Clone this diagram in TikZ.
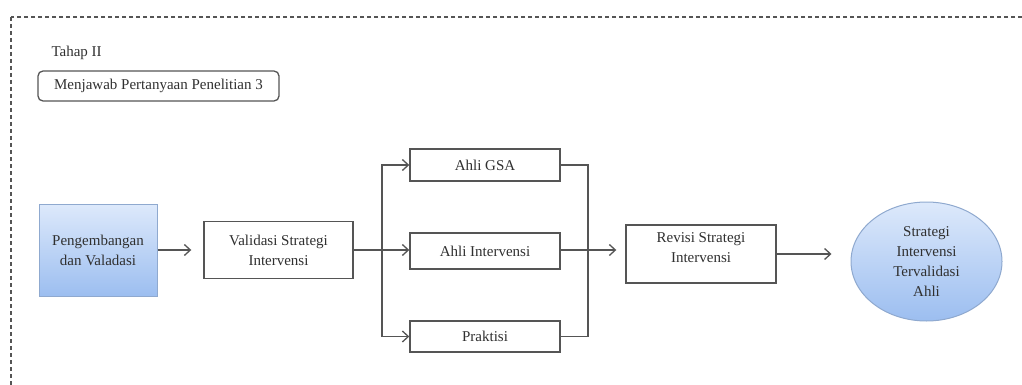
\documentclass[tikz,border=0pt]{standalone}
\usepackage{fontspec}
\setmainfont{Liberation Serif}
\usetikzlibrary{shapes.geometric,arrows.meta}
\definecolor{txt}{HTML}{303030}
\definecolor{ln}{HTML}{555555}
\definecolor{blueTop}{HTML}{DDE9FB}
\definecolor{blueBot}{HTML}{9CBEF0}
\definecolor{blueEdge}{HTML}{8FA9CF}
\tikzset{
  every node/.style={text=txt, font=\fontsize{15}{20}\selectfont},
  plainbox/.style={draw=ln, line width=1.4pt, fill=white, align=center, inner sep=2pt},
  bluebox/.style={draw=blueEdge, line width=1pt, top color=blueTop, bottom color=blueBot, align=center},
  conn/.style={draw=ln, line width=1.3pt},
  arr/.style={conn, -{Straight Barb[length=6pt,width=11pt,line width=1.3pt]}},
}
\begin{document}
\begin{tikzpicture}[x=1pt,y=-1pt]
\useasboundingbox (0,0) rectangle (1022,385);
\clip (0,0) rectangle (1022,385);
\draw[draw=ln, line width=1.7pt, dash pattern=on 4pt off 3pt] (11,17) rectangle (1080,430);

\node[anchor=west] (tahap) at (48,53) {Tahap II};
\node[draw=ln, line width=1.3pt, rounded corners=5pt, minimum width=241pt, minimum height=30pt, inner sep=0pt] (jawab) at (158.5,86) {Menjawab Pertanyaan Penelitian 3};

\node[bluebox, minimum width=118pt, minimum height=92pt, inner sep=0pt] (peng) at (98,250) {Pengembangan\\dan Valadasi};
\node[plainbox, minimum width=149pt, minimum height=57pt] (val) at (278.5,250) {Validasi Strategi\\Intervensi};
\node[plainbox, minimum width=150pt, minimum height=32pt] (gsa) at (485,165) {Ahli GSA};
\node[plainbox, minimum width=150pt, minimum height=36pt] (ai) at (485,251) {Ahli Intervensi};
\node[plainbox, minimum width=150pt, minimum height=31pt] (prak) at (485,336.5) {Praktisi};
\node[plainbox, minimum width=150pt, minimum height=58pt] (rev) at (701,254) {Revisi Strategi\\Intervensi\\[-8pt]};
\node[ellipse, bluebox, minimum width=151pt, minimum height=119pt, inner sep=0pt] (ell) at (926.5,261.5) {Strategi\\Intervensi\\Tervalidasi\\Ahli};

\coordinate (split) at (382,250);
\coordinate (join) at (588,250);

\draw[arr, shorten >=12pt] (peng.east) -- (peng.east -| val.west);
\draw[conn] (val.east) -- (split);
\draw[arr] (split) -- (split -| ai.west);
\draw[arr] (split) |- (gsa.west);
\draw[arr] (split) |- (prak.west);
\draw[conn] (gsa.east) -| (join);
\draw[conn] (prak.east) -| (join);
\draw[conn] (ai.east |- join) -- (join);
\draw[arr, shorten >=9pt] (join) -- (join -| rev.west);
\draw[arr, shorten >=19pt] (rev.east) -- (rev.east -| ell.west);
\end{tikzpicture}
\end{document}
